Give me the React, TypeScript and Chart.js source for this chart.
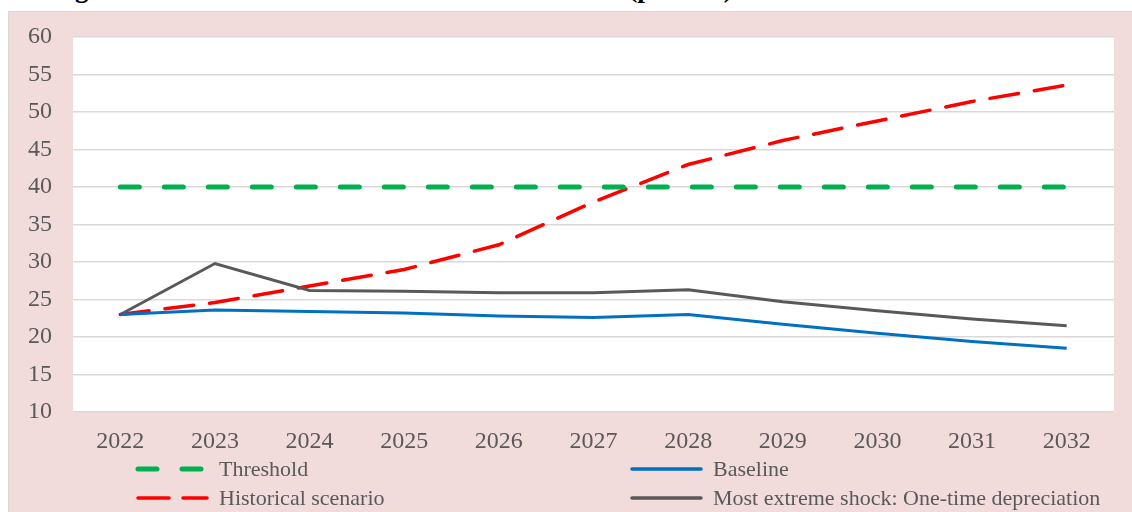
import React, { useEffect, useRef } from "react";
import { Chart, registerables } from "chart.js";

Chart.register(...registerables);

const titleText = "Figure 3. PV of PPG External Debt-to-GDP Ratio (percent)";
const years = ["2022", "2023", "2024", "2025", "2026", "2027", "2028", "2029", "2030", "2031", "2032"];
const threshold = [40, 40, 40, 40, 40, 40, 40, 40, 40, 40, 40];
const baseline = [23.0, 23.6, 23.4, 23.2, 22.8, 22.6, 23.0, 21.7, 20.5, 19.4, 18.5];
const historical = [23.0, 24.6, 26.8, 29.0, 32.3, 38.0, 43.0, 46.2, 48.8, 51.4, 53.6];
const extremeShock = [23.0, 29.8, 26.2, 26.1, 25.9, 25.9, 26.3, 24.7, 23.5, 22.4, 21.5];
const seriesNames = ["Threshold", "Baseline", "Historical scenario", "Most extreme shock: One-time depreciation"];
const yMin = 10;
const yMax = 60;
const yStep = 5;

const FONT = "'Liberation Serif', 'Times New Roman', serif";
const TEXT = "#595959";

const plotBg = {
  id: "plotBg",
  beforeDraw(chart: any) {
    const { ctx, chartArea } = chart;
    if (!chartArea) return;
    ctx.save();
    ctx.fillStyle = "#ffffff";
    ctx.fillRect(chartArea.left, chartArea.top, chartArea.right - chartArea.left, chartArea.bottom - chartArea.top);
    ctx.restore();
  },
};

function LegendLine({ color, width, dash }: { color: string; width: number; dash?: string }) {
  return (
    <svg width={80} height={10} style={{ display: "block" }}>
      <line x1={3} y1={5} x2={72} y2={5} stroke={color} strokeWidth={width} strokeDasharray={dash} strokeLinecap="round" />
    </svg>
  );
}

export default function App() {
  const ref = useRef<HTMLCanvasElement | null>(null);

  useEffect(() => {
    if (!ref.current) return;
    const chart = new Chart(ref.current, {
      type: "line",
      data: {
        labels: years,
        datasets: [
          {
            label: seriesNames[0],
            data: threshold,
            borderColor: "#00b050",
            borderWidth: 5,
            borderDash: [19, 25],
            borderCapStyle: "round",
            pointRadius: 0,
            fill: false,
          },
          {
            label: seriesNames[1],
            data: baseline,
            borderColor: "#0070c0",
            borderWidth: 3,
            pointRadius: 0,
            fill: false,
          },
          {
            label: seriesNames[3],
            data: extremeShock,
            borderColor: "#595959",
            borderWidth: 3,
            pointRadius: 0,
            fill: false,
          },
          {
            label: seriesNames[2],
            data: historical,
            borderColor: "#ff0000",
            borderWidth: 3.5,
            borderDash: [29, 16],
            borderCapStyle: "round",
            pointRadius: 0,
            fill: false,
          },
        ],
      },
      options: {
        animation: false,
        responsive: false,
        devicePixelRatio: 1,
        layout: { padding: { top: 37, right: 18, left: 0, bottom: 0 } },
        plugins: { legend: { display: false }, tooltip: { enabled: false }, title: { display: false } },
        scales: {
          x: {
            offset: true,
            grid: { display: false, drawTicks: false },
            border: { display: false },
            ticks: { color: TEXT, font: { family: FONT, size: 24 }, padding: 15, maxRotation: 0 },
            afterFit(scale: any) {
              scale.height = 100;
            },
          },
          y: {
            min: yMin,
            max: yMax,
            grid: { color: "#d9d9d9", lineWidth: 1.5, drawTicks: false },
            border: { display: false },
            ticks: { stepSize: yStep, color: TEXT, font: { family: FONT, size: 24 }, padding: 21 },
            afterFit(scale: any) {
              scale.width = 73;
            },
          },
        },
      },
      plugins: [plotBg],
    });
    return () => chart.destroy();
  }, []);

  return (
    <div style={{ position: "absolute", left: 0, top: 0, width: 1132, height: 512, overflow: "hidden", background: "#fff" }}>
      <div
        style={{
          position: "absolute",
          left: 0,
          top: -25,
          height: 36,
          width: 1132,
          overflow: "hidden",
        }}
      >
        <div
          style={{
            position: "absolute",
            left: 51,
            top: 0,
            whiteSpace: "nowrap",
            fontFamily: FONT,
            fontWeight: "bold",
            fontSize: 27,
            lineHeight: "27px",
            color: "#000",
          }}
        >
          {titleText}
        </div>
      </div>
      <div
        style={{
          position: "absolute",
          left: 8,
          top: 11,
          width: 1130,
          height: 510,
          background: "#f2dcdb",
          border: "1px solid #d9d9d9",
          boxSizing: "border-box",
        }}
      />
      <canvas ref={ref} width={1132} height={512} style={{ position: "absolute", left: 0, top: 0, width: 1132, height: 512 }} />
      {[
        { x: 135, y: 464, color: "#00b050", width: 5, dash: "19 25", name: seriesNames[0] },
        { x: 629, y: 464, color: "#0070c0", width: 3.5, dash: undefined, name: seriesNames[1] },
        { x: 135, y: 493, color: "#ff0000", width: 3.5, dash: "31 14", name: seriesNames[2] },
        { x: 629, y: 493, color: "#595959", width: 3.5, dash: undefined, name: seriesNames[3] },
      ].map((it) => (
        <div
          key={it.name}
          style={{
            position: "absolute",
            left: it.x,
            top: it.y - 8,
            display: "flex",
            alignItems: "center",
            height: 26,
            fontFamily: FONT,
            fontSize: 22,
            color: TEXT,
            whiteSpace: "nowrap",
          }}
        >
          <LegendLine color={it.color} width={it.width} dash={it.dash} />
          <span style={{ marginLeft: 4 }}>{it.name}</span>
        </div>
      ))}
    </div>
  );
}
